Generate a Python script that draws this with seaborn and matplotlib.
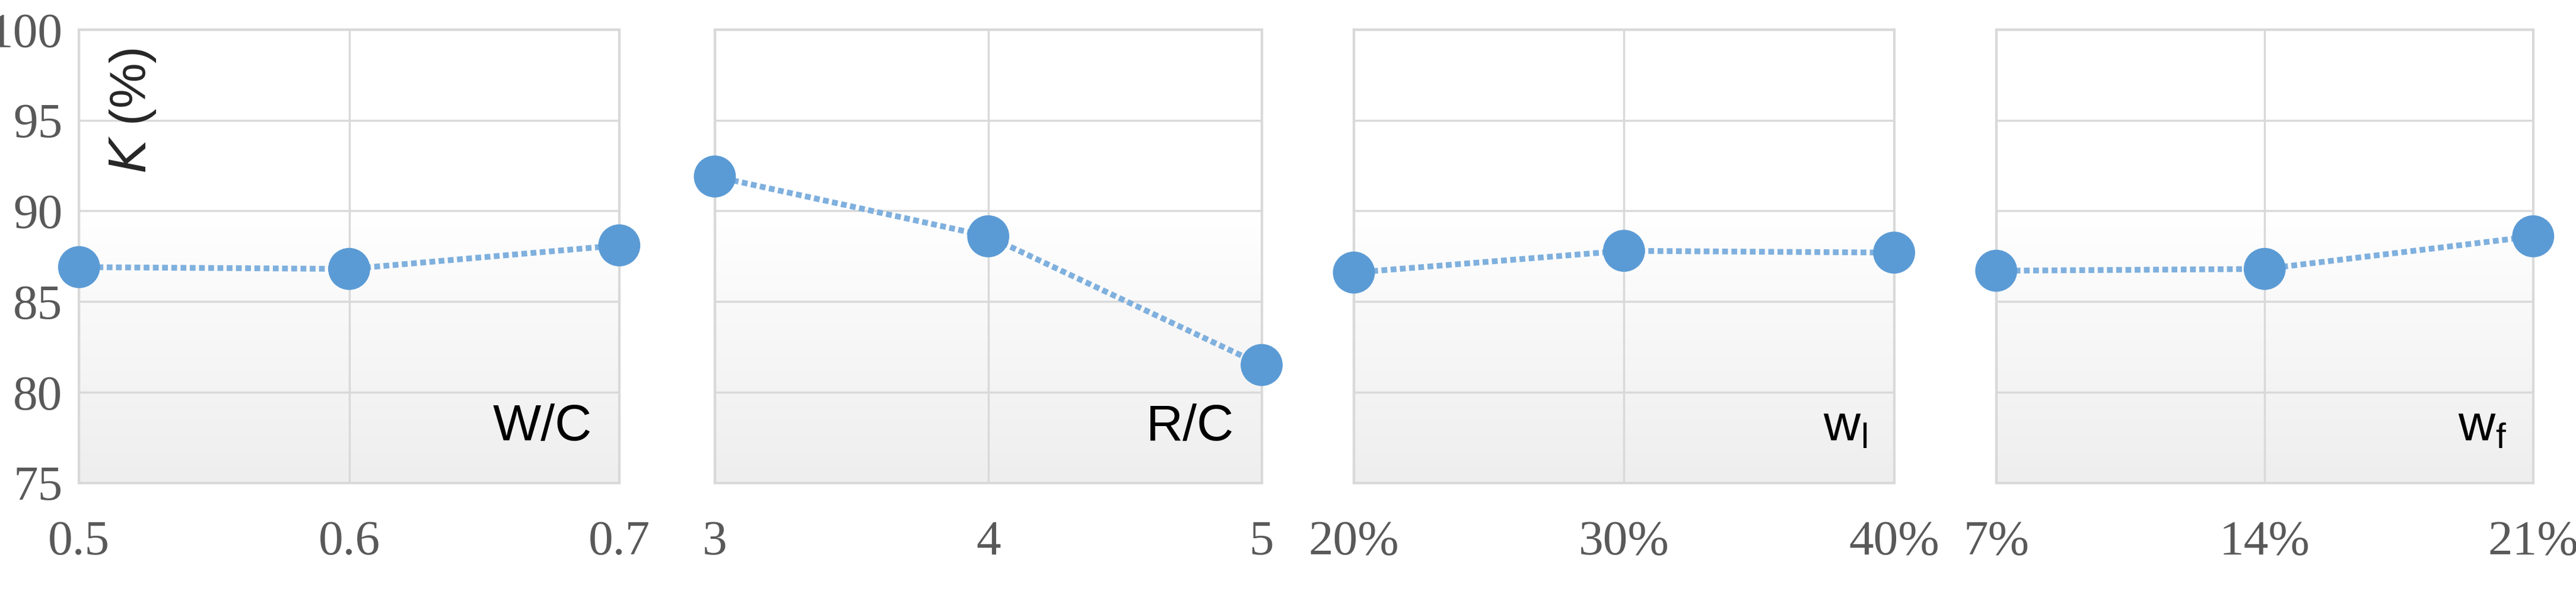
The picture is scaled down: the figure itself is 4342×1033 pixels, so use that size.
import numpy as np
import pandas as pd
import matplotlib
matplotlib.use("Agg")
import matplotlib.pyplot as plt
import seaborn as sns

sns.set_style("white")

wc_labels = ["0.5", "0.6", "0.7"]
wc_values = [86.9, 86.8, 88.1]
rc_labels = ["3", "4", "5"]
rc_values = [91.9, 88.6, 81.5]
wl_labels = ["20%", "30%", "40%"]
wl_values = [86.6, 87.8, 87.7]
wf_labels = ["7%", "14%", "21%"]
wf_values = [86.7, 86.8, 88.6]
panel_names = ["W/C", "R/C", r"$\mathregular{w_l}$", r"$\mathregular{w_f}$"]
y_ticks = [75, 80, 85, 90, 95, 100]

panels = [(wc_labels, wc_values), (rc_labels, rc_values),
          (wl_labels, wl_values), (wf_labels, wf_values)]

fig = plt.figure(figsize=(43.42, 10.33), dpi=100)
W, H = 1564, 372
boxes = [(48, 376), (434, 766), (822, 1150), (1212, 1538)]
top, bot = 18, 293
blue = "#5B9BD5"
tick_color = "#595959"
yy = np.linspace(75, 100, 256)
shade = np.clip((yy - 75) / 15.0, 0, 1).reshape(-1, 1)   # 0 at bottom -> 1 at 90+
cmap = matplotlib.colors.LinearSegmentedColormap.from_list("g", ["#EEEEEE", "#FFFFFF"])

for i, ((labs, vals), name, (x0, x1)) in enumerate(zip(panels, panel_names, boxes)):
    ax = fig.add_axes([x0 / W, 1 - bot / H, (x1 - x0) / W, (bot - top) / H])
    ax.imshow(shade, aspect="auto", cmap=cmap, extent=[0, 2, 75, 100],
              origin="lower", zorder=0, vmin=0, vmax=1)
    df = pd.DataFrame({"x": np.arange(3), "y": vals})
    sns.lineplot(data=df, x="x", y="y", ax=ax, color="#7FB0DE", linestyle=(0, (1, 0.6)),
                 linewidth=7, zorder=3)
    sns.scatterplot(data=df, x="x", y="y", ax=ax, color=blue, s=2600, edgecolor="none",
                    zorder=4, clip_on=False)
    ax.set_xlim(0, 2)
    ax.set_ylim(75, 100)
    ax.set_xticks([0, 1, 2])
    ax.set_xticklabels(labs)
    ax.set_yticks(y_ticks)
    ax.grid(True, color="#D9D9D9", linewidth=2.5, zorder=1)
    ax.set_axisbelow(True)
    for s in ax.spines.values():
        s.set_color("#D9D9D9")
        s.set_linewidth(3)
    ax.set_xlabel("")
    ax.set_ylabel("")
    ax.tick_params(axis="x", length=0, pad=45, labelsize=60, colors=tick_color)
    ax.tick_params(axis="y", length=0, pad=20, labelsize=60, colors=tick_color)
    for t in ax.get_xticklabels() + ax.get_yticklabels():
        t.set_family("Liberation Serif")
    if i > 0:
        ax.set_yticklabels([])
    ax.text(0.95, 0.07, name, transform=ax.transAxes, ha="right", va="bottom",
            fontsize=62, family="Liberation Sans", color="black", zorder=5)
    if i == 0:
        ax.text(0.1, 0.96, r"$\it{K}$ (%)", transform=ax.transAxes, rotation=90,
                ha="center", va="top", fontsize=62, family="Liberation Sans", zorder=5)

fig.savefig("out.png", dpi=100)
